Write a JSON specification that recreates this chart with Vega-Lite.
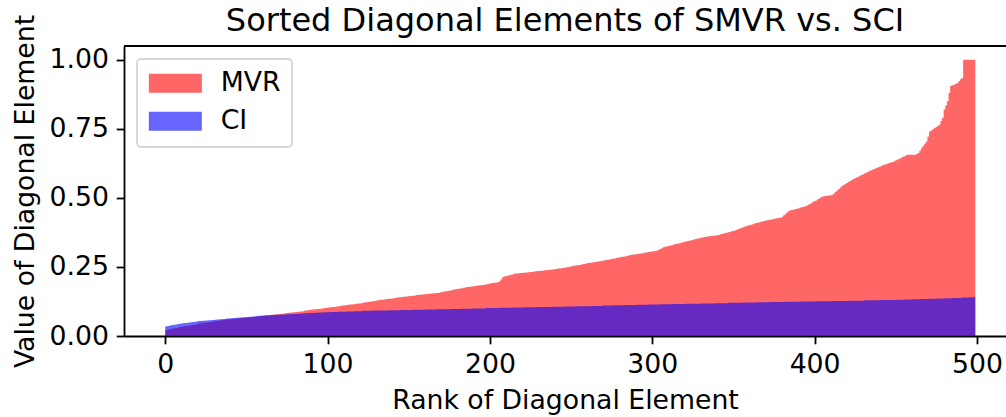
{
"$schema": "https://vega.github.io/schema/vega-lite/v6.json",
"width": 882, "height": 290,
"autosize": {"type": "none"},
"padding": {"left": 124, "top": 46, "right": 0, "bottom": 81},
"background": "white",
"title": {"text": "Sorted Diagonal Elements of SMVR vs. SCI", "font": "DejaVu Sans", "fontSize": 32, "fontWeight": "normal", "color": "black", "anchor": "middle", "offset": 13, "baseline": "alphabetic", "dy": 62},
"config": {
  "view": {"stroke": null},
  "font": "DejaVu Sans",
  "axis": {"grid": false, "domainColor": "black", "domainWidth": 1.8, "tickColor": "black", "tickWidth": 1.8, "tickSize": 7.8, "labelPadding": 7.8, "labelFont": "DejaVu Sans", "labelFontSize": 26.7, "labelColor": "black", "titleFont": "DejaVu Sans", "titleFontSize": 26.7, "titleFontWeight": "normal", "titleColor": "black", "labelFlush": false, "labelOverlap": false},
  "legend": {"orient": "top-left", "offset": 13, "padding": 11, "fillColor": "white", "strokeColor": "#d6d6d6", "strokeWidth": 1.8, "cornerRadius": 4, "labelFont": "DejaVu Sans", "labelFontSize": 26.7, "labelColor": "black", "symbolType": "M-2.79,-1H2.79V1H-2.79Z", "symbolSize": 361, "symbolOffset": 14, "symbolStrokeWidth": 0, "symbolOpacity": 0.6, "labelOffset": 32, "rowPadding": 10, "title": null}
},
"data": {"values": [
{"r":0,"m":0.020,"c":0.034},{"r":1,"m":0.022,"c":0.035},{"r":2,"m":0.023,"c":0.036},{"r":3,"m":0.024,"c":0.038},{"r":4,"m":0.026,"c":0.039},{"r":5,"m":0.027,"c":0.040},{"r":6,"m":0.028,"c":0.041},{"r":7,"m":0.029,"c":0.042},{"r":8,"m":0.031,"c":0.043},{"r":9,"m":0.032,"c":0.044},
{"r":10,"m":0.033,"c":0.045},{"r":11,"m":0.034,"c":0.046},{"r":12,"m":0.035,"c":0.047},{"r":13,"m":0.036,"c":0.047},{"r":14,"m":0.037,"c":0.048},{"r":15,"m":0.038,"c":0.049},{"r":16,"m":0.039,"c":0.050},{"r":17,"m":0.040,"c":0.051},{"r":18,"m":0.041,"c":0.051},{"r":19,"m":0.042,"c":0.052},
{"r":20,"m":0.043,"c":0.053},{"r":21,"m":0.045,"c":0.054},{"r":22,"m":0.046,"c":0.054},{"r":23,"m":0.047,"c":0.055},{"r":24,"m":0.048,"c":0.055},{"r":25,"m":0.049,"c":0.056},{"r":26,"m":0.049,"c":0.056},{"r":27,"m":0.050,"c":0.057},{"r":28,"m":0.051,"c":0.057},{"r":29,"m":0.052,"c":0.058},
{"r":30,"m":0.053,"c":0.058},{"r":31,"m":0.053,"c":0.059},{"r":32,"m":0.054,"c":0.060},{"r":33,"m":0.055,"c":0.060},{"r":34,"m":0.056,"c":0.061},{"r":35,"m":0.057,"c":0.061},{"r":36,"m":0.058,"c":0.062},{"r":37,"m":0.059,"c":0.062},{"r":38,"m":0.060,"c":0.063},{"r":39,"m":0.060,"c":0.063},
{"r":40,"m":0.061,"c":0.064},{"r":41,"m":0.061,"c":0.064},{"r":42,"m":0.062,"c":0.065},{"r":43,"m":0.062,"c":0.065},{"r":44,"m":0.063,"c":0.066},{"r":45,"m":0.064,"c":0.066},{"r":46,"m":0.064,"c":0.067},{"r":47,"m":0.065,"c":0.067},{"r":48,"m":0.065,"c":0.068},{"r":49,"m":0.066,"c":0.068},
{"r":50,"m":0.066,"c":0.069},{"r":51,"m":0.067,"c":0.069},{"r":52,"m":0.068,"c":0.070},{"r":53,"m":0.068,"c":0.070},{"r":54,"m":0.069,"c":0.071},{"r":55,"m":0.069,"c":0.071},{"r":56,"m":0.070,"c":0.072},{"r":57,"m":0.070,"c":0.072},{"r":58,"m":0.071,"c":0.073},{"r":59,"m":0.072,"c":0.073},
{"r":60,"m":0.072,"c":0.074},{"r":61,"m":0.073,"c":0.074},{"r":62,"m":0.074,"c":0.075},{"r":63,"m":0.074,"c":0.075},{"r":64,"m":0.075,"c":0.075},{"r":65,"m":0.076,"c":0.076},{"r":66,"m":0.077,"c":0.076},{"r":67,"m":0.077,"c":0.076},{"r":68,"m":0.078,"c":0.077},{"r":69,"m":0.079,"c":0.077},
{"r":70,"m":0.079,"c":0.077},{"r":71,"m":0.080,"c":0.077},{"r":72,"m":0.081,"c":0.078},{"r":73,"m":0.081,"c":0.078},{"r":74,"m":0.082,"c":0.078},{"r":75,"m":0.083,"c":0.079},{"r":76,"m":0.084,"c":0.079},{"r":77,"m":0.084,"c":0.079},{"r":78,"m":0.085,"c":0.080},{"r":79,"m":0.086,"c":0.080},
{"r":80,"m":0.086,"c":0.080},{"r":81,"m":0.087,"c":0.080},{"r":82,"m":0.088,"c":0.081},{"r":83,"m":0.089,"c":0.081},{"r":84,"m":0.089,"c":0.081},{"r":85,"m":0.090,"c":0.082},{"r":86,"m":0.091,"c":0.082},{"r":87,"m":0.092,"c":0.082},{"r":88,"m":0.093,"c":0.083},{"r":89,"m":0.094,"c":0.083},
{"r":90,"m":0.095,"c":0.083},{"r":91,"m":0.096,"c":0.083},{"r":92,"m":0.097,"c":0.084},{"r":93,"m":0.097,"c":0.084},{"r":94,"m":0.098,"c":0.084},{"r":95,"m":0.099,"c":0.085},{"r":96,"m":0.099,"c":0.085},{"r":97,"m":0.100,"c":0.085},{"r":98,"m":0.101,"c":0.085},{"r":99,"m":0.101,"c":0.086},
{"r":100,"m":0.102,"c":0.086},{"r":101,"m":0.103,"c":0.086},{"r":102,"m":0.104,"c":0.087},{"r":103,"m":0.105,"c":0.087},{"r":104,"m":0.105,"c":0.087},{"r":105,"m":0.106,"c":0.087},{"r":106,"m":0.107,"c":0.087},{"r":107,"m":0.108,"c":0.088},{"r":108,"m":0.109,"c":0.088},{"r":109,"m":0.110,"c":0.088},
{"r":110,"m":0.110,"c":0.088},{"r":111,"m":0.111,"c":0.088},{"r":112,"m":0.112,"c":0.089},{"r":113,"m":0.113,"c":0.089},{"r":114,"m":0.114,"c":0.089},{"r":115,"m":0.114,"c":0.089},{"r":116,"m":0.115,"c":0.089},{"r":117,"m":0.116,"c":0.090},{"r":118,"m":0.117,"c":0.090},{"r":119,"m":0.118,"c":0.090},
{"r":120,"m":0.118,"c":0.090},{"r":121,"m":0.119,"c":0.090},{"r":122,"m":0.120,"c":0.091},{"r":123,"m":0.121,"c":0.091},{"r":124,"m":0.122,"c":0.091},{"r":125,"m":0.123,"c":0.091},{"r":126,"m":0.124,"c":0.091},{"r":127,"m":0.125,"c":0.091},{"r":128,"m":0.126,"c":0.092},{"r":129,"m":0.127,"c":0.092},
{"r":130,"m":0.128,"c":0.092},{"r":131,"m":0.129,"c":0.092},{"r":132,"m":0.130,"c":0.092},{"r":133,"m":0.131,"c":0.092},{"r":134,"m":0.131,"c":0.092},{"r":135,"m":0.132,"c":0.092},{"r":136,"m":0.133,"c":0.092},{"r":137,"m":0.134,"c":0.092},{"r":138,"m":0.135,"c":0.093},{"r":139,"m":0.135,"c":0.093},
{"r":140,"m":0.136,"c":0.093},{"r":141,"m":0.137,"c":0.093},{"r":142,"m":0.138,"c":0.093},{"r":143,"m":0.139,"c":0.093},{"r":144,"m":0.140,"c":0.093},{"r":145,"m":0.140,"c":0.093},{"r":146,"m":0.141,"c":0.094},{"r":147,"m":0.142,"c":0.094},{"r":148,"m":0.143,"c":0.094},{"r":149,"m":0.143,"c":0.094},
{"r":150,"m":0.144,"c":0.094},{"r":151,"m":0.145,"c":0.094},{"r":152,"m":0.145,"c":0.094},{"r":153,"m":0.146,"c":0.095},{"r":154,"m":0.147,"c":0.095},{"r":155,"m":0.148,"c":0.095},{"r":156,"m":0.148,"c":0.095},{"r":157,"m":0.149,"c":0.095},{"r":158,"m":0.150,"c":0.095},{"r":159,"m":0.150,"c":0.095},
{"r":160,"m":0.151,"c":0.095},{"r":161,"m":0.152,"c":0.096},{"r":162,"m":0.152,"c":0.096},{"r":163,"m":0.153,"c":0.096},{"r":164,"m":0.154,"c":0.096},{"r":165,"m":0.154,"c":0.096},{"r":166,"m":0.155,"c":0.096},{"r":167,"m":0.156,"c":0.096},{"r":168,"m":0.156,"c":0.097},{"r":169,"m":0.157,"c":0.097},
{"r":170,"m":0.158,"c":0.097},{"r":171,"m":0.160,"c":0.097},{"r":172,"m":0.161,"c":0.097},{"r":173,"m":0.162,"c":0.097},{"r":174,"m":0.163,"c":0.097},{"r":175,"m":0.164,"c":0.097},{"r":176,"m":0.165,"c":0.098},{"r":177,"m":0.167,"c":0.098},{"r":178,"m":0.168,"c":0.098},{"r":179,"m":0.169,"c":0.098},
{"r":180,"m":0.170,"c":0.098},{"r":181,"m":0.171,"c":0.098},{"r":182,"m":0.172,"c":0.098},{"r":183,"m":0.173,"c":0.099},{"r":184,"m":0.175,"c":0.099},{"r":185,"m":0.176,"c":0.099},{"r":186,"m":0.177,"c":0.099},{"r":187,"m":0.177,"c":0.099},{"r":188,"m":0.178,"c":0.099},{"r":189,"m":0.179,"c":0.099},
{"r":190,"m":0.180,"c":0.100},{"r":191,"m":0.181,"c":0.100},{"r":192,"m":0.182,"c":0.100},{"r":193,"m":0.183,"c":0.100},{"r":194,"m":0.184,"c":0.100},{"r":195,"m":0.185,"c":0.100},{"r":196,"m":0.185,"c":0.100},{"r":197,"m":0.186,"c":0.100},{"r":198,"m":0.187,"c":0.101},{"r":199,"m":0.188,"c":0.101},
{"r":200,"m":0.190,"c":0.101},{"r":201,"m":0.191,"c":0.101},{"r":202,"m":0.192,"c":0.101},{"r":203,"m":0.193,"c":0.101},{"r":204,"m":0.194,"c":0.101},{"r":205,"m":0.195,"c":0.101},{"r":206,"m":0.197,"c":0.102},{"r":207,"m":0.205,"c":0.102},{"r":208,"m":0.213,"c":0.102},{"r":209,"m":0.215,"c":0.102},
{"r":210,"m":0.217,"c":0.102},{"r":211,"m":0.218,"c":0.102},{"r":212,"m":0.220,"c":0.102},{"r":213,"m":0.222,"c":0.102},{"r":214,"m":0.223,"c":0.103},{"r":215,"m":0.225,"c":0.103},{"r":216,"m":0.226,"c":0.103},{"r":217,"m":0.226,"c":0.103},{"r":218,"m":0.227,"c":0.103},{"r":219,"m":0.228,"c":0.103},
{"r":220,"m":0.228,"c":0.103},{"r":221,"m":0.229,"c":0.103},{"r":222,"m":0.230,"c":0.104},{"r":223,"m":0.230,"c":0.104},{"r":224,"m":0.231,"c":0.104},{"r":225,"m":0.232,"c":0.104},{"r":226,"m":0.232,"c":0.104},{"r":227,"m":0.233,"c":0.104},{"r":228,"m":0.234,"c":0.104},{"r":229,"m":0.234,"c":0.104},
{"r":230,"m":0.235,"c":0.105},{"r":231,"m":0.235,"c":0.105},{"r":232,"m":0.236,"c":0.105},{"r":233,"m":0.237,"c":0.105},{"r":234,"m":0.238,"c":0.105},{"r":235,"m":0.238,"c":0.105},{"r":236,"m":0.239,"c":0.105},{"r":237,"m":0.240,"c":0.105},{"r":238,"m":0.241,"c":0.106},{"r":239,"m":0.241,"c":0.106},
{"r":240,"m":0.242,"c":0.106},{"r":241,"m":0.243,"c":0.106},{"r":242,"m":0.244,"c":0.106},{"r":243,"m":0.244,"c":0.106},{"r":244,"m":0.245,"c":0.106},{"r":245,"m":0.246,"c":0.106},{"r":246,"m":0.247,"c":0.107},{"r":247,"m":0.248,"c":0.107},{"r":248,"m":0.250,"c":0.107},{"r":249,"m":0.251,"c":0.107},
{"r":250,"m":0.252,"c":0.107},{"r":251,"m":0.253,"c":0.107},{"r":252,"m":0.254,"c":0.107},{"r":253,"m":0.255,"c":0.107},{"r":254,"m":0.256,"c":0.108},{"r":255,"m":0.257,"c":0.108},{"r":256,"m":0.258,"c":0.108},{"r":257,"m":0.260,"c":0.108},{"r":258,"m":0.261,"c":0.108},{"r":259,"m":0.262,"c":0.108},
{"r":260,"m":0.263,"c":0.108},{"r":261,"m":0.264,"c":0.108},{"r":262,"m":0.265,"c":0.108},{"r":263,"m":0.266,"c":0.109},{"r":264,"m":0.267,"c":0.109},{"r":265,"m":0.268,"c":0.109},{"r":266,"m":0.269,"c":0.109},{"r":267,"m":0.270,"c":0.109},{"r":268,"m":0.271,"c":0.109},{"r":269,"m":0.272,"c":0.109},
{"r":270,"m":0.273,"c":0.110},{"r":271,"m":0.274,"c":0.110},{"r":272,"m":0.275,"c":0.110},{"r":273,"m":0.276,"c":0.110},{"r":274,"m":0.277,"c":0.110},{"r":275,"m":0.279,"c":0.110},{"r":276,"m":0.280,"c":0.110},{"r":277,"m":0.281,"c":0.111},{"r":278,"m":0.282,"c":0.111},{"r":279,"m":0.283,"c":0.111},
{"r":280,"m":0.285,"c":0.111},{"r":281,"m":0.286,"c":0.111},{"r":282,"m":0.287,"c":0.111},{"r":283,"m":0.288,"c":0.111},{"r":284,"m":0.289,"c":0.112},{"r":285,"m":0.291,"c":0.112},{"r":286,"m":0.292,"c":0.112},{"r":287,"m":0.293,"c":0.112},{"r":288,"m":0.294,"c":0.112},{"r":289,"m":0.295,"c":0.112},
{"r":290,"m":0.296,"c":0.112},{"r":291,"m":0.297,"c":0.113},{"r":292,"m":0.298,"c":0.113},{"r":293,"m":0.299,"c":0.113},{"r":294,"m":0.300,"c":0.113},{"r":295,"m":0.301,"c":0.113},{"r":296,"m":0.302,"c":0.113},{"r":297,"m":0.303,"c":0.113},{"r":298,"m":0.304,"c":0.114},{"r":299,"m":0.305,"c":0.114},
{"r":300,"m":0.306,"c":0.114},{"r":301,"m":0.307,"c":0.114},{"r":302,"m":0.308,"c":0.114},{"r":303,"m":0.309,"c":0.114},{"r":304,"m":0.312,"c":0.114},{"r":305,"m":0.315,"c":0.114},{"r":306,"m":0.318,"c":0.115},{"r":307,"m":0.321,"c":0.115},{"r":308,"m":0.323,"c":0.115},{"r":309,"m":0.324,"c":0.115},
{"r":310,"m":0.326,"c":0.115},{"r":311,"m":0.327,"c":0.115},{"r":312,"m":0.329,"c":0.115},{"r":313,"m":0.330,"c":0.116},{"r":314,"m":0.332,"c":0.116},{"r":315,"m":0.333,"c":0.116},{"r":316,"m":0.335,"c":0.116},{"r":317,"m":0.336,"c":0.116},{"r":318,"m":0.338,"c":0.116},{"r":319,"m":0.339,"c":0.116},
{"r":320,"m":0.341,"c":0.116},{"r":321,"m":0.342,"c":0.117},{"r":322,"m":0.344,"c":0.117},{"r":323,"m":0.345,"c":0.117},{"r":324,"m":0.347,"c":0.117},{"r":325,"m":0.348,"c":0.117},{"r":326,"m":0.350,"c":0.117},{"r":327,"m":0.351,"c":0.117},{"r":328,"m":0.353,"c":0.117},{"r":329,"m":0.354,"c":0.117},
{"r":330,"m":0.356,"c":0.118},{"r":331,"m":0.357,"c":0.118},{"r":332,"m":0.358,"c":0.118},{"r":333,"m":0.359,"c":0.118},{"r":334,"m":0.360,"c":0.118},{"r":335,"m":0.361,"c":0.118},{"r":336,"m":0.362,"c":0.118},{"r":337,"m":0.362,"c":0.118},{"r":338,"m":0.363,"c":0.118},{"r":339,"m":0.364,"c":0.119},
{"r":340,"m":0.365,"c":0.119},{"r":341,"m":0.366,"c":0.119},{"r":342,"m":0.368,"c":0.119},{"r":343,"m":0.369,"c":0.119},{"r":344,"m":0.371,"c":0.119},{"r":345,"m":0.373,"c":0.119},{"r":346,"m":0.374,"c":0.119},{"r":347,"m":0.376,"c":0.120},{"r":348,"m":0.377,"c":0.120},{"r":349,"m":0.379,"c":0.120},
{"r":350,"m":0.380,"c":0.120},{"r":351,"m":0.382,"c":0.120},{"r":352,"m":0.384,"c":0.120},{"r":353,"m":0.387,"c":0.120},{"r":354,"m":0.389,"c":0.120},{"r":355,"m":0.391,"c":0.120},{"r":356,"m":0.394,"c":0.121},{"r":357,"m":0.396,"c":0.121},{"r":358,"m":0.398,"c":0.121},{"r":359,"m":0.400,"c":0.121},
{"r":360,"m":0.401,"c":0.121},{"r":361,"m":0.403,"c":0.121},{"r":362,"m":0.405,"c":0.121},{"r":363,"m":0.407,"c":0.121},{"r":364,"m":0.409,"c":0.121},{"r":365,"m":0.410,"c":0.122},{"r":366,"m":0.412,"c":0.122},{"r":367,"m":0.414,"c":0.122},{"r":368,"m":0.415,"c":0.122},{"r":369,"m":0.416,"c":0.122},
{"r":370,"m":0.418,"c":0.122},{"r":371,"m":0.419,"c":0.122},{"r":372,"m":0.420,"c":0.122},{"r":373,"m":0.421,"c":0.123},{"r":374,"m":0.423,"c":0.123},{"r":375,"m":0.424,"c":0.123},{"r":376,"m":0.425,"c":0.123},{"r":377,"m":0.426,"c":0.123},{"r":378,"m":0.427,"c":0.123},{"r":379,"m":0.429,"c":0.123},
{"r":380,"m":0.430,"c":0.123},{"r":381,"m":0.436,"c":0.123},{"r":382,"m":0.441,"c":0.124},{"r":383,"m":0.447,"c":0.124},{"r":384,"m":0.452,"c":0.124},{"r":385,"m":0.454,"c":0.124},{"r":386,"m":0.456,"c":0.124},{"r":387,"m":0.457,"c":0.124},{"r":388,"m":0.459,"c":0.124},{"r":389,"m":0.461,"c":0.124},
{"r":390,"m":0.462,"c":0.124},{"r":391,"m":0.464,"c":0.125},{"r":392,"m":0.466,"c":0.125},{"r":393,"m":0.467,"c":0.125},{"r":394,"m":0.469,"c":0.125},{"r":395,"m":0.471,"c":0.125},{"r":396,"m":0.474,"c":0.125},{"r":397,"m":0.478,"c":0.125},{"r":398,"m":0.481,"c":0.125},{"r":399,"m":0.485,"c":0.125},
{"r":400,"m":0.488,"c":0.125},{"r":401,"m":0.491,"c":0.126},{"r":402,"m":0.495,"c":0.126},{"r":403,"m":0.498,"c":0.126},{"r":404,"m":0.502,"c":0.126},{"r":405,"m":0.505,"c":0.126},{"r":406,"m":0.506,"c":0.126},{"r":407,"m":0.507,"c":0.126},{"r":408,"m":0.508,"c":0.126},{"r":409,"m":0.509,"c":0.126},
{"r":410,"m":0.510,"c":0.126},{"r":411,"m":0.511,"c":0.127},{"r":412,"m":0.516,"c":0.127},{"r":413,"m":0.522,"c":0.127},{"r":414,"m":0.527,"c":0.127},{"r":415,"m":0.532,"c":0.127},{"r":416,"m":0.538,"c":0.127},{"r":417,"m":0.543,"c":0.127},{"r":418,"m":0.547,"c":0.127},{"r":419,"m":0.550,"c":0.127},
{"r":420,"m":0.554,"c":0.127},{"r":421,"m":0.558,"c":0.128},{"r":422,"m":0.561,"c":0.128},{"r":423,"m":0.565,"c":0.128},{"r":424,"m":0.568,"c":0.128},{"r":425,"m":0.571,"c":0.128},{"r":426,"m":0.574,"c":0.128},{"r":427,"m":0.577,"c":0.128},{"r":428,"m":0.580,"c":0.128},{"r":429,"m":0.583,"c":0.128},
{"r":430,"m":0.586,"c":0.128},{"r":431,"m":0.589,"c":0.129},{"r":432,"m":0.592,"c":0.129},{"r":433,"m":0.595,"c":0.129},{"r":434,"m":0.598,"c":0.129},{"r":435,"m":0.600,"c":0.129},{"r":436,"m":0.603,"c":0.129},{"r":437,"m":0.605,"c":0.129},{"r":438,"m":0.608,"c":0.129},{"r":439,"m":0.610,"c":0.129},
{"r":440,"m":0.613,"c":0.129},{"r":441,"m":0.615,"c":0.130},{"r":442,"m":0.618,"c":0.130},{"r":443,"m":0.620,"c":0.130},{"r":444,"m":0.622,"c":0.130},{"r":445,"m":0.624,"c":0.130},{"r":446,"m":0.626,"c":0.130},{"r":447,"m":0.628,"c":0.130},{"r":448,"m":0.630,"c":0.130},{"r":449,"m":0.632,"c":0.130},
{"r":450,"m":0.635,"c":0.130},{"r":451,"m":0.638,"c":0.131},{"r":452,"m":0.641,"c":0.131},{"r":453,"m":0.644,"c":0.131},{"r":454,"m":0.647,"c":0.131},{"r":455,"m":0.650,"c":0.131},{"r":456,"m":0.653,"c":0.132},{"r":457,"m":0.655,"c":0.132},{"r":458,"m":0.656,"c":0.132},{"r":459,"m":0.656,"c":0.132},
{"r":460,"m":0.656,"c":0.132},{"r":461,"m":0.656,"c":0.133},{"r":462,"m":0.656,"c":0.133},{"r":463,"m":0.659,"c":0.133},{"r":464,"m":0.663,"c":0.133},{"r":465,"m":0.671,"c":0.133},{"r":466,"m":0.680,"c":0.134},{"r":467,"m":0.688,"c":0.134},{"r":468,"m":0.696,"c":0.134},{"r":469,"m":0.704,"c":0.134},
{"r":470,"m":0.722,"c":0.134},{"r":471,"m":0.740,"c":0.135},{"r":472,"m":0.744,"c":0.135},{"r":473,"m":0.749,"c":0.135},{"r":474,"m":0.753,"c":0.135},{"r":475,"m":0.757,"c":0.135},{"r":476,"m":0.761,"c":0.136},{"r":477,"m":0.765,"c":0.136},{"r":478,"m":0.778,"c":0.136},{"r":479,"m":0.790,"c":0.136},
{"r":480,"m":0.820,"c":0.136},{"r":481,"m":0.835,"c":0.137},{"r":482,"m":0.850,"c":0.137},{"r":483,"m":0.880,"c":0.137},{"r":484,"m":0.906,"c":0.137},{"r":485,"m":0.908,"c":0.137},{"r":486,"m":0.910,"c":0.138},{"r":487,"m":0.913,"c":0.138},{"r":488,"m":0.915,"c":0.138},{"r":489,"m":0.922,"c":0.138},
{"r":490,"m":0.930,"c":0.138},{"r":491,"m":0.934,"c":0.139},{"r":492,"m":1.000,"c":0.139},{"r":493,"m":1.000,"c":0.139},{"r":494,"m":1.000,"c":0.139},{"r":495,"m":1.000,"c":0.139},{"r":496,"m":1.000,"c":0.140},{"r":497,"m":1.000,"c":0.140},{"r":498,"m":1.000,"c":0.140},{"r":499,"m":1.000,"c":0.140}
]},
"layer": [
  {"mark": {"type": "area", "interpolate": "step", "opacity": 0.6},
   "encoding": {
     "x": {"field": "r", "type": "quantitative", "scale": {"domain": [-25.39, 517.9], "nice": false, "zero": false}, "axis": {"values": [0, 100, 200, 300, 400, 500], "title": "Rank of Diagonal Element", "titlePadding": 9}},
     "y": {"field": "m", "type": "quantitative", "stack": null, "scale": {"domain": [0, 1.05], "nice": false}, "axis": {"values": [0, 0.25, 0.5, 0.75, 1.0], "format": ".2f", "title": "Value of Diagonal Element", "titlePadding": 9}},
     "color": {"datum": "MVR", "scale": {"domain": ["MVR", "CI"], "range": ["#ff0000", "#0000ff"]}}
   }},
  {"mark": {"type": "area", "interpolate": "step", "opacity": 0.6},
   "encoding": {
     "x": {"field": "r", "type": "quantitative"},
     "y": {"field": "c", "type": "quantitative", "stack": null},
     "color": {"datum": "CI"}
   }},
  {"data": {"values": [{}]},
   "mark": {"type": "rule", "color": "black", "strokeWidth": 1.8},
   "encoding": {"y": {"datum": 1.05}}}
]
}
